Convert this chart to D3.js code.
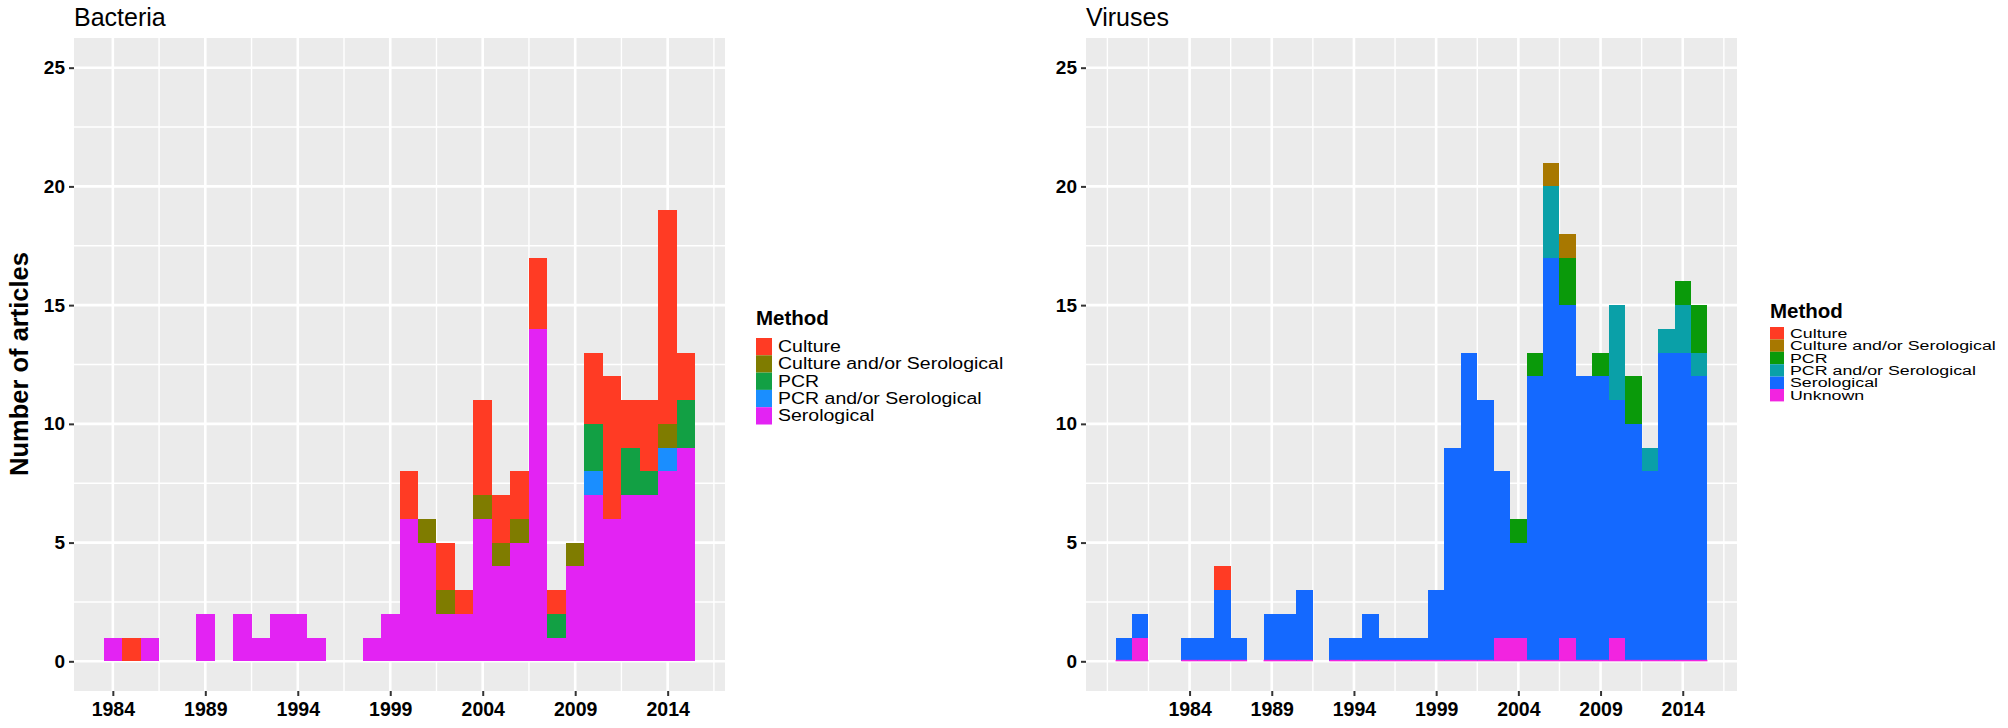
<!DOCTYPE html>
<head>
  <meta charset="utf-8">
  <script src="https://d3js.org/d3.v7.min.js"></script>
  <style>
    body { margin:0; background:#fff; }
    text { font-family: "Liberation Sans", Arial, sans-serif; fill:#000; }
    .tick line { stroke:#333; stroke-width:2; }
  </style>
</head>
<body>
  <script>
    // ---- data ----
    var methods = ['Culture', 'Culture and/or Serological', 'PCR', 'PCR and/or Serological', 'Serological', 'Unknown'];
    var xTicks = [1984, 1989, 1994, 1999, 2004, 2009, 2014];
    var yTicks = [0, 5, 10, 15, 20, 25];

    var bactYears = [1984,1985,1986,1987,1988,1989,1990,1991,1992,1993,1994,1995,1996,1997,1998,1999,
                     2000,2001,2002,2003,2004,2005,2006,2007,2008,2009,2010,2011,2012,2013,2014,2015];
    var bactCulture     = [0,1,0,0,0,0,0,0,0,0,0,0,0,0,0,0, 2,0,2,1,4,2,2,3,1,0,3,6,2,3,9,2];
    var bactCultSero    = [0,0,0,0,0,0,0,0,0,0,0,0,0,0,0,0, 0,1,1,0,1,1,1,0,0,1,0,0,0,0,1,0];
    var bactPcr         = [0,0,0,0,0,0,0,0,0,0,0,0,0,0,0,0, 0,0,0,0,0,0,0,0,1,0,2,0,2,1,0,2];
    var bactPcrSero     = [0,0,0,0,0,0,0,0,0,0,0,0,0,0,0,0, 0,0,0,0,0,0,0,0,0,0,1,0,0,0,1,0];
    var bactSerological = [1,0,1,0,0,2,0,2,1,2,2,1,0,0,1,2, 6,5,2,2,6,4,5,14,1,4,7,6,7,7,8,9];

    var virYears = [1980,1981,1982,1983,1984,1985,1986,1987,1988,1989,1990,1991,1992,1993,1994,1995,1996,1997,1998,1999,
                    2000,2001,2002,2003,2004,2005,2006,2007,2008,2009,2010,2011,2012,2013,2014,2015];
    var virCulture     = [0,0,0,0,0,0,1,0,0,0,0,0,0,0,0,0,0,0,0,0, 0,0,0,0,0,0,0,0,0,0,0,0,0,0,0,0];
    var virCultSero    = [0,0,0,0,0,0,0,0,0,0,0,0,0,0,0,0,0,0,0,0, 0,0,0,0,0,0,1,1,0,0,0,0,0,0,0,0];
    var virPcr         = [0,0,0,0,0,0,0,0,0,0,0,0,0,0,0,0,0,0,0,0, 0,0,0,0,1,1,0,2,0,1,0,2,0,0,1,2];
    var virPcrSero     = [0,0,0,0,0,0,0,0,0,0,0,0,0,0,0,0,0,0,0,0, 0,0,0,0,0,0,3,0,0,0,4,0,1,1,2,1];
    var virSerological = [1,1,0,0,1,1,3,1,0,2,2,3,0,1,1,2,1,1,1,3, 9,13,11,7,4,12,17,14,12,12,10,10,8,13,13,12];
    var virUnknown     = [0,1,0,0,0,0,0,0,0,0,0,0,0,0,0,0,0,0,0,0, 0,0,0,1,1,0,0,1,0,0,1,0,0,0,0,0];

    var bactColors = ['#ff3b24', '#7f7c00', '#12a044', '#1a8eff', '#e323f3'];
    var virColors  = ['#ff3b24', '#a87800', '#0a9a0a', '#0aa0a8', '#1469ff', '#f224e0'];

    var svg = d3.select('body').append('svg')
      .attr('width', 2008)
      .attr('height', 728);

    function toRows(years, series, keys) {
      return years.map(function(yr, i) {
        var row = { year: yr };
        keys.forEach(function(k, j) { row[k] = series[j][i]; });
        return row;
      });
    }

    function drawPanel(p) {
      var x = d3.scaleLinear().domain(p.xDomain).range([p.left, p.right]);
      var y = d3.scaleLinear().domain([-1.25, 26.25]).range([691, 38]);
      var g = svg.append('g');

      g.append('rect')
        .attr('x', p.left).attr('y', 38)
        .attr('width', p.right - p.left).attr('height', 691 - 38)
        .attr('fill', '#ebebeb');

      // minor grid: midpoints between the major breaks, plus the ones beyond
      var xMinor = [];
      for (var i = -1; i < xTicks.length; i++) {
        var a = i < 0 ? xTicks[0] - 5 : xTicks[i];
        xMinor.push(a + 2.5);
        if (i < 0) xMinor.push(a);
      }
      xMinor.push(xTicks[xTicks.length - 1] + 5);
      xMinor = xMinor.filter(function(v) { return v > p.xDomain[0] && v < p.xDomain[1]; });
      var yMinor = [2.5, 7.5, 12.5, 17.5, 22.5];

      g.selectAll('.vminor').data(xMinor).enter().append('line')
        .attr('x1', function(d) { return x(d); }).attr('x2', function(d) { return x(d); })
        .attr('y1', 38).attr('y2', 691)
        .attr('stroke', '#fff').attr('stroke-width', 1.4);
      g.selectAll('.hminor').data(yMinor).enter().append('line')
        .attr('x1', p.left).attr('x2', p.right)
        .attr('y1', function(d) { return y(d); }).attr('y2', function(d) { return y(d); })
        .attr('stroke', '#fff').attr('stroke-width', 1.4);
      g.selectAll('.vmajor').data(xTicks).enter().append('line')
        .attr('x1', function(d) { return x(d); }).attr('x2', function(d) { return x(d); })
        .attr('y1', 38).attr('y2', 691)
        .attr('stroke', '#fff').attr('stroke-width', 2.6);
      g.selectAll('.hmajor').data(yTicks).enter().append('line')
        .attr('x1', p.left).attr('x2', p.right)
        .attr('y1', function(d) { return y(d); }).attr('y2', function(d) { return y(d); })
        .attr('stroke', '#fff').attr('stroke-width', 2.6);

      // stacked bars, first key at the bottom
      var keys = p.keys.slice().reverse();
      var colorOf = {};
      p.keys.forEach(function(k, j) { colorOf[k] = p.colors[j]; });
      var stacked = d3.stack().keys(keys)(p.rows);

      stacked.forEach(function(layer) {
        g.selectAll(null).data(layer.filter(function(d) { return d[1] > d[0]; }))
          .enter().append('rect')
          .attr('x', function(d) { return x(d.data.year - 0.5); })
          .attr('width', function(d) { return x(d.data.year + 0.5) - x(d.data.year - 0.5); })
          .attr('y', function(d) { return y(d[1]); })
          .attr('height', function(d) { return y(d[0]) - y(d[1]); })
          .attr('fill', colorOf[layer.key])
          .attr('shape-rendering', 'crispEdges');
      });

      // zero-height Unknown bins show as a thin line on the baseline
      if (p.baseColor) {
        g.selectAll(null).data(p.rows.filter(function(d) {
            return d3.sum(p.keys, function(k) { return d[k]; }) > 0;
          }))
          .enter().append('rect')
          .attr('x', function(d) { return x(d.year - 0.5); })
          .attr('width', function(d) { return x(d.year + 0.5) - x(d.year - 0.5); })
          .attr('y', y(0) - 1.5).attr('height', 1.5)
          .attr('fill', p.baseColor);
      }

      // axes
      var yAxis = g.append('g')
        .attr('transform', 'translate(' + p.left + ',0)')
        .call(d3.axisLeft(y).tickValues(yTicks).tickSize(5).tickPadding(4));
      yAxis.select('.domain').remove();
      yAxis.selectAll('text').style('font-size', '19px').style('font-weight', 'bold').attr('fill', '#000');

      var xAxis = g.append('g')
        .attr('transform', 'translate(0,691)')
        .call(d3.axisBottom(x).tickValues(xTicks).tickFormat(d3.format('d')).tickSize(5).tickPadding(6));
      xAxis.select('.domain').remove();
      xAxis.selectAll('text').style('font-size', '19.5px').style('font-weight', 'bold').attr('fill', '#000');

      g.append('text')
        .attr('x', p.left).attr('y', 26)
        .style('font-size', '25px')
        .text(p.title);

      // legend
      var lg = svg.append('g').attr('transform', 'translate(' + p.legX + ',' + p.legY + ')');
      lg.append('text')
        .attr('x', 0).attr('y', 0)
        .style('font-size', '20.5px').style('font-weight', 'bold')
        .text('Method');
      p.keys.forEach(function(k, j) {
        lg.append('rect')
          .attr('x', 0).attr('y', p.keyTop + j * p.keyH)
          .attr('width', p.keyW).attr('height', p.keyH)
          .attr('fill', p.colors[j]);
        lg.append('text')
          .attr('transform', 'translate(' + (p.keyW + 6) + ',' + (p.keyTop + j * p.keyH + p.keyH / 2 + p.txtDy) + ') scale(1,' + p.txtSy + ')')
          .style('font-size', p.txtSize + 'px')
          .text(k);
      });
    }

    var bactKeys = methods.slice(0, 5);
    drawPanel({
      title: 'Bacteria',
      left: 74, right: 725,
      xDomain: [1981.9, 2017.1],
      keys: bactKeys,
      colors: bactColors,
      rows: toRows(bactYears, [bactCulture, bactCultSero, bactPcr, bactPcrSero, bactSerological], bactKeys),
      legX: 756, legY: 325, keyTop: 13, keyH: 17.3, keyW: 16, txtSize: 19.5, txtSy: 0.8, txtDy: 5.5
    });

    drawPanel({
      title: 'Viruses',
      left: 1086, right: 1737,
      xDomain: [1977.7, 2017.3],
      keys: methods,
      colors: virColors,
      rows: toRows(virYears, [virCulture, virCultSero, virPcr, virPcrSero, virSerological, virUnknown], methods),
      baseColor: virColors[5],
      legX: 1770, legY: 318, keyTop: 9, keyH: 12.4, keyW: 14, txtSize: 17.8, txtSy: 0.7, txtDy: 4.5
    });

    svg.append('text')
      .attr('transform', 'translate(28,364) rotate(-90)')
      .attr('text-anchor', 'middle')
      .style('font-size', '25.5px').style('font-weight', 'bold')
      .text('Number of articles');
  </script>
</body>
